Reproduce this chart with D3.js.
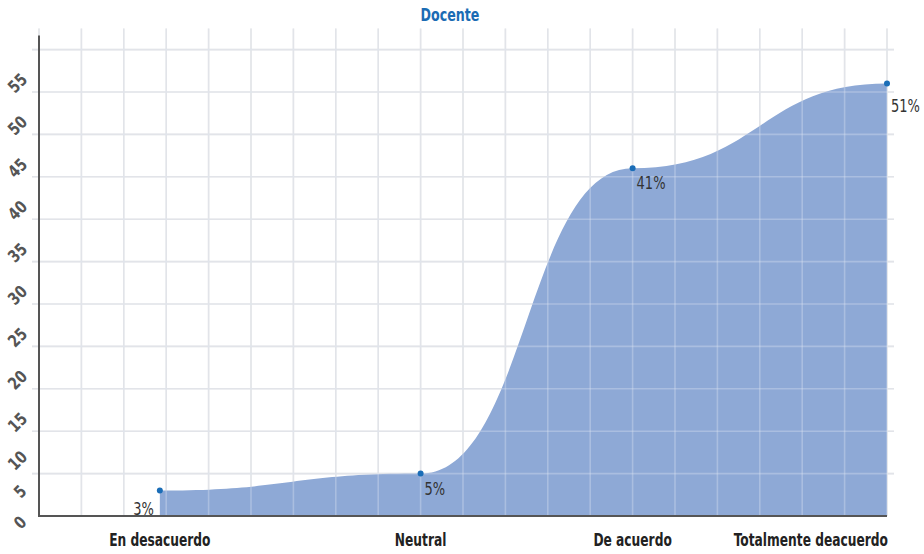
<!DOCTYPE html>
<html>
<head>
<meta charset="utf-8">
<script src="https://cdn.jsdelivr.net/npm/d3@7/dist/d3.min.js"></script>
<style>
  html, body { margin: 0; padding: 0; background: #fff; }
  svg { display: block; }
  .cond { font-family: "DejaVu Sans Condensed", "DejaVu Sans", sans-serif; }
</style>
</head>
<body>
<svg id="chart" width="924" height="554"></svg>
<script>
// Survey answers (teachers) and their share in percent
const categories = ["En desacuerdo", "Neutral", "De acuerdo", "Totalmente deacuerdo"];
const values = [3, 5, 41, 51];
// where each answer sits along the gridded horizontal axis (grid units)
const categoryUnits = [2.85, 9, 14, 20];
const yTickValues = [0, 5, 10, 15, 20, 25, 30, 35, 40, 45, 50, 55];
const xGridUnits = d3.range(0, 21);
const title = "Docente";

const plotLeft = 39, plotRight = 887, plotTop = 49.6, plotBottom = 516;

const svg = d3.select("#chart");

const x = d3.scaleLinear().domain([0, 20]).range([plotLeft, plotRight]);
const y = d3.scaleLinear().domain([0, 55]).range([plotBottom, plotTop]);

// squeeze text horizontally for a narrow look
function condense(sel, k) {
  sel.each(function () {
    const w = this.getComputedTextLength();
    d3.select(this).attr("textLength", w * k).attr("lengthAdjust", "spacingAndGlyphs");
  });
}

// grid lines
function drawGrid(g, color, opacity) {
  g.selectAll("line.v").data(xGridUnits).join("line")
    .attr("class", "v")
    .attr("x1", d => x(d)).attr("x2", d => x(d))
    .attr("y1", plotTop - 21).attr("y2", plotBottom)
    .attr("stroke", color).attr("stroke-width", 1.6).attr("opacity", opacity);
  g.selectAll("line.h").data(yTickValues.filter(v => v > 0)).join("line")
    .attr("class", "h")
    .attr("x1", plotLeft - 7).attr("x2", plotRight + 7)
    .attr("y1", d => y(d)).attr("y2", d => y(d))
    .attr("stroke", color).attr("stroke-width", 1.6).attr("opacity", opacity);
}
drawGrid(svg.append("g"), "#e4e4e4", 1);

// area
const pts = values.map((v, i) => ({ cx: categoryUnits[i], v }));
const area = d3.area()
  .x(d => x(d.cx))
  .y0(y(0))
  .y1(d => y(d.v))
  .curve(d3.curveBumpX);

svg.append("path")
  .datum(pts)
  .attr("d", area)
  .attr("fill", "#8ea9d6");

// faint grid over the fill
drawGrid(svg.append("g"), "#dfe6f3", 0.35);

// axis lines
svg.append("line")
  .attr("x1", plotLeft).attr("x2", plotLeft)
  .attr("y1", plotTop - 14).attr("y2", plotBottom + 1)
  .attr("stroke", "#555").attr("stroke-width", 2);
svg.append("line")
  .attr("x1", plotLeft - 1).attr("x2", plotRight)
  .attr("y1", plotBottom).attr("y2", plotBottom)
  .attr("stroke", "#555").attr("stroke-width", 2);

// y axis labels (rotated), kept from overlapping at the bottom
const yAxis = d3.axisLeft(y).tickValues(yTickValues).tickSize(0).tickFormat(d3.format("d"));
const yg = svg.append("g").attr("transform", `translate(${plotLeft},0)`).call(yAxis);
yg.select(".domain").remove();
const minGap = 31, lowest = 522;
const centers = {};
let prev = null;
yTickValues.forEach(v => {
  let c = Math.min(y(v) + 33, lowest);
  if (prev !== null) c = Math.min(c, prev - minGap);
  centers[v] = c;
  prev = c;
});
const yTexts = yg.selectAll(".tick text")
  .attr("class", "cond")
  .attr("font-size", 17)
  .attr("font-weight", "bold")
  .attr("fill", "#555")
  .attr("text-anchor", "middle")
  .attr("dy", null)
  .attr("x", null)
  .attr("dominant-baseline", "central")
  .attr("transform", d => {
    const cx = String(d).length > 1 ? -21.5 : -19;
    return `translate(${cx},${centers[d] - y(d)}) rotate(-45)`;
  });
condense(yTexts, 0.88);

// points
svg.append("g").selectAll("circle").data(pts).join("circle")
  .attr("cx", d => x(d.cx))
  .attr("cy", d => y(d.v))
  .attr("r", 3)
  .attr("fill", "#1a6db7");

// value labels
const vl = svg.append("g").selectAll("text").data(pts).join("text")
  .attr("class", "cond")
  .attr("font-size", 17)
  .attr("fill", "#333")
  .attr("text-anchor", (d, i) => i === 0 ? "end" : "start")
  .attr("x", (d, i) => x(d.cx) + (i === 0 ? -6 : 4))
  .attr("y", (d, i) => y(d.v) + (i === 0 ? 24 : (i === 3 ? 28 : 21)))
  .text(d => d.v + "%");
condense(vl, 0.85);

// category labels; a label that would run past the last point is right-aligned to it
const xl = svg.append("g").selectAll("text").data(categories).join("text")
  .attr("class", "cond")
  .attr("font-size", 17)
  .attr("font-weight", "bold")
  .attr("fill", "#222")
  .attr("text-anchor", "middle")
  .attr("x", (d, i) => x(categoryUnits[i]))
  .attr("y", 546)
  .text(d => d);
condense(xl, 0.8);
xl.each(function (d, i) {
  const w = +d3.select(this).attr("textLength");
  const cx = x(categoryUnits[i]);
  if (cx + w / 2 > plotRight + 1) {
    d3.select(this).attr("text-anchor", "end").attr("x", plotRight + 1);
  }
});

// title
const tt = svg.append("text")
  .attr("class", "cond")
  .attr("x", 450).attr("y", 21)
  .attr("text-anchor", "middle")
  .attr("font-size", 18)
  .attr("font-weight", "bold")
  .attr("fill", "#1b6cb4")
  .text(title);
condense(tt, 0.78);
</script>
</body>
</html>
